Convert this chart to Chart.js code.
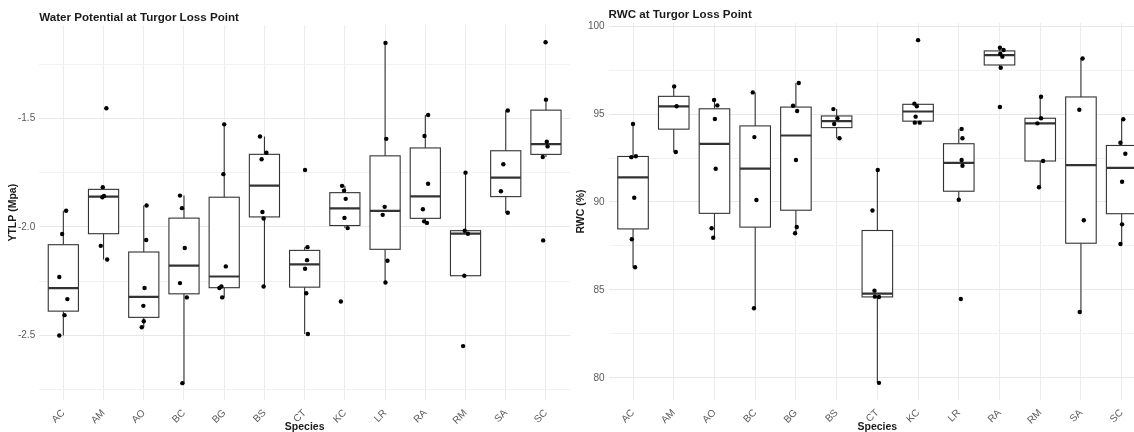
<!DOCTYPE html>
<html>
<head>
<meta charset="utf-8">
<script src="https://cdn.jsdelivr.net/npm/chart.js@4/dist/chart.umd.min.js"></script>
<style>
  html, body { margin: 0; padding: 0; background: #ffffff; overflow: hidden; width: 1134px; height: 432px; }
  canvas { position: absolute; top: 0; }
  #c1 { left: 0; }
  #c2 { left: 575px; }
</style>
</head>
<body>
<canvas id="c1" width="578" height="432"></canvas>
<canvas id="c2" width="585" height="432"></canvas>
<script>
// ---------------- data ----------------
const species = ['AC','AM','AO','BC','BG','BS','CT','KC','LR','RA','RM','SA','SC'];

// Water potential at turgor loss point (MPa), one list per species
const ytlpValues = [
  [-1.925, -2.032, -2.231, -2.333, -2.407, -2.501],
  [-1.452, -1.816, -1.857, -1.863, -2.087, -2.150],
  [-1.901, -2.060, -2.282, -2.364, -2.435, -2.463],
  [-1.855, -1.913, -2.097, -2.259, -2.325, -2.721],
  [-1.526, -1.756, -2.182, -2.275, -2.282, -2.325],
  [-1.582, -1.657, -1.687, -1.931, -1.961, -2.275],
  [-1.737, -2.093, -2.153, -2.193, -2.306, -2.494],
  [-1.810, -1.832, -1.870, -1.958, -2.005, -2.344],
  [-1.150, -1.593, -1.907, -1.944, -2.156, -2.256],
  [-1.483, -1.580, -1.800, -1.918, -1.974, -1.981],
  [-1.749, -2.017, -2.031, -2.225, -2.550],
  [-1.462, -1.710, -1.835, -1.934],
  [-1.147, -1.412, -1.606, -1.628, -1.677, -2.062]
];
// horizontal jitter of each point (category units)
const ytlpJitter = [
  [0.07, -0.03, -0.10, 0.10, 0.03, -0.10],
  [0.07, -0.02, 0.01, -0.03, -0.07, 0.09],
  [0.07, 0.06, 0.02, -0.01, 0.00, -0.05],
  [-0.10, -0.05, 0.02, -0.10, 0.07, -0.04],
  [0.00, -0.02, 0.04, -0.07, -0.12, -0.05],
  [-0.11, 0.05, -0.07, -0.05, -0.02, -0.02],
  [0.01, 0.07, 0.06, 0.01, 0.04, 0.08],
  [-0.07, -0.02, 0.02, -0.01, 0.07, -0.10],
  [0.01, 0.03, -0.01, -0.06, 0.06, 0.01],
  [0.07, -0.02, 0.07, -0.06, -0.03, 0.04],
  [0.00, -0.02, 0.06, -0.03, -0.06],
  [0.05, -0.06, -0.12, 0.05],
  [-0.01, 0.00, 0.02, 0.04, -0.08, -0.07]
];

// Relative water content at turgor loss point (%)
const rwcValues = [
  [94.43, 92.60, 92.55, 90.24, 87.88, 86.29],
  [96.57, 95.44, 92.84],
  [95.80, 95.49, 94.72, 91.89, 88.51, 87.97],
  [96.23, 93.69, 90.11, 83.96],
  [96.76, 95.47, 95.17, 92.39, 88.58, 88.22],
  [95.28, 94.76, 94.43, 93.62],
  [91.82, 89.52, 84.96, 84.62, 84.60, 79.72],
  [99.20, 95.59, 95.44, 94.85, 94.51, 94.51],
  [94.15, 93.62, 92.39, 92.06, 90.13, 84.49],
  [98.77, 98.64, 98.43, 98.26, 97.63, 95.40],
  [95.98, 94.76, 94.47, 92.33, 90.84],
  [98.16, 95.24, 88.96, 83.75],
  [94.70, 93.37, 92.74, 91.15, 88.73, 87.61]
];
const rwcJitter = [
  [0.00, 0.07, -0.04, 0.03, -0.03, 0.05],
  [0.01, 0.07, 0.05],
  [-0.01, 0.07, 0.01, 0.03, -0.07, -0.03],
  [-0.06, -0.02, 0.03, -0.03],
  [0.07, -0.07, 0.03, 0.00, 0.02, -0.02],
  [-0.08, 0.02, -0.06, 0.07],
  [0.01, -0.12, -0.07, -0.06, 0.04, 0.04],
  [0.00, -0.09, -0.03, -0.06, -0.08, 0.04],
  [0.07, 0.09, 0.07, 0.09, 0.00, 0.05],
  [0.01, 0.10, 0.02, 0.07, 0.03, 0.01],
  [0.02, 0.02, -0.07, 0.07, -0.03],
  [0.04, -0.04, 0.07, -0.03],
  [0.04, -0.03, 0.09, 0.01, 0.01, -0.03]
];

// y tick positions (major labelled, minor grid only)
const ytlpTicks = [-2.75, -2.5, -2.25, -2.0, -1.75, -1.5, -1.25];
const ytlpLabelled = [-2.5, -2.0, -1.5];
const rwcTicks = [80, 82.5, 85, 87.5, 90, 92.5, 95, 97.5, 100];
const rwcLabelled = [80, 85, 90, 95, 100];

// ---------------- helpers ----------------
const FONT = '"Liberation Sans", Arial, Helvetica, sans-serif';

function quantile7(sorted, p) {
  const h = (sorted.length - 1) * p;
  const lo = Math.floor(h);
  const hi = Math.min(lo + 1, sorted.length - 1);
  return sorted[lo] + (h - lo) * (sorted[hi] - sorted[lo]);
}
function boxStats(vals) {
  const s = [...vals].sort((a, b) => a - b);
  const q1 = quantile7(s, 0.25), med = quantile7(s, 0.5), q3 = quantile7(s, 0.75);
  const iqr = q3 - q1;
  const lo = Math.min(...s.filter(v => v >= q1 - 1.5 * iqr));
  const hi = Math.max(...s.filter(v => v <= q3 + 1.5 * iqr));
  return { q1, med, q3, lo, hi };
}

function boxPlugin(stats) {
  return {
    id: 'boxes',
    beforeDatasetsDraw(chart) {
      const { ctx, chartArea, scales: { x, y } } = chart;
      ctx.save();
      ctx.beginPath();
      ctx.rect(chartArea.left, chartArea.top, chartArea.width, chartArea.height);
      ctx.clip();
      ctx.strokeStyle = '#333333';
      stats.forEach((s, i) => {
        const cx = x.getPixelForValue(i);
        const x0 = x.getPixelForValue(i - 0.375);
        const x1 = x.getPixelForValue(i + 0.375);
        const yq1 = y.getPixelForValue(s.q1);
        const yq3 = y.getPixelForValue(s.q3);
        const ymed = y.getPixelForValue(s.med);
        const ylo = y.getPixelForValue(s.lo);
        const yhi = y.getPixelForValue(s.hi);
        ctx.lineWidth = 1.1;
        ctx.beginPath();
        ctx.moveTo(cx, yq3); ctx.lineTo(cx, yhi);
        ctx.moveTo(cx, yq1); ctx.lineTo(cx, ylo);
        ctx.stroke();
        ctx.fillStyle = '#ffffff';
        ctx.fillRect(x0, yq3, x1 - x0, yq1 - yq3);
        ctx.strokeRect(x0, yq3, x1 - x0, yq1 - yq3);
        ctx.lineWidth = 2.2;
        ctx.beginPath();
        ctx.moveTo(x0, ymed); ctx.lineTo(x1, ymed);
        ctx.stroke();
      });
      ctx.restore();
    }
  };
}

function titlePlugin(text, baseline) {
  return {
    id: 'plotTitle',
    afterDraw(chart) {
      const { ctx, chartArea } = chart;
      ctx.save();
      ctx.font = 'bold 11.6px ' + FONT;
      ctx.fillStyle = '#1a1a1a';
      ctx.textAlign = 'left';
      ctx.textBaseline = 'alphabetic';
      ctx.fillText(text, chartArea.left, baseline);
      ctx.restore();
    }
  };
}

function makeChart(id, cfg) {
  const canvas = document.getElementById(id);
  const W = canvas.width, H = canvas.height;
  const all = cfg.values.flat();
  const dmin = Math.min(...all), dmax = Math.max(...all);
  const pad = (dmax - dmin) * 0.05;
  const stats = cfg.values.map(boxStats);
  const points = [];
  cfg.values.forEach((vs, i) => vs.forEach((v, j) => points.push({ x: i + cfg.jitter[i][j], y: v })));
  const isMajor = v => cfg.labelled.some(m => Math.abs(m - v) < 1e-9);

  return new Chart(canvas, {
    type: 'scatter',
    data: {
      datasets: [{
        data: points,
        pointRadius: 2.2,
        pointHoverRadius: 2.2,
        pointBackgroundColor: '#000000',
        pointBorderWidth: 0
      }]
    },
    options: {
      responsive: false,
      animation: false,
      events: [],
      layout: { padding: { left: 0, top: cfg.area.top, right: W - cfg.area.right, bottom: 0 } },
      plugins: { legend: { display: false }, tooltip: { enabled: false } },
      scales: {
        x: {
          type: 'linear',
          min: -0.6,
          max: species.length - 0.4,
          afterFit: s => { s.height = H - cfg.area.bottom; },
          afterBuildTicks: s => { s.ticks = species.map((_, i) => ({ value: i })); },
          border: { display: false },
          grid: { color: '#ebebeb', lineWidth: 1, drawTicks: false },
          ticks: {
            autoSkip: false,
            maxRotation: 45,
            minRotation: 45,
            padding: 7,
            color: '#5a5a5a',
            font: { family: FONT, size: 10 },
            callback: v => species[Math.round(v)] ?? ''
          },
          title: {
            display: true,
            text: 'Species',
            color: '#1a1a1a',
            font: { family: FONT, size: 10.5, weight: 'bold' },
            padding: { top: 0, bottom: -1.5 }
          }
        },
        y: {
          min: dmin - pad,
          max: dmax + pad,
          afterFit: s => { s.width = cfg.area.left; },
          afterBuildTicks: s => { s.ticks = cfg.ticks.map(v => ({ value: v })); },
          border: { display: false },
          grid: {
            drawTicks: false,
            color: c => isMajor(c.tick.value) ? '#e8e8e8' : '#f2f2f2',
            lineWidth: 1
          },
          ticks: {
            padding: 4,
            color: '#5a5a5a',
            font: { family: FONT, size: 10 },
            callback: v => isMajor(v) ? cfg.fmt(v) : ''
          },
          title: {
            display: true,
            text: cfg.yTitle,
            color: '#1a1a1a',
            font: { family: FONT, size: 10.5, weight: 'bold' },
            padding: { top: cfg.yTitlePad, bottom: 0 }
          }
        }
      }
    },
    plugins: [boxPlugin(stats), titlePlugin(cfg.title, cfg.titleBaseline)]
  });
}

makeChart('c1', {
  values: ytlpValues,
  jitter: ytlpJitter,
  ticks: ytlpTicks,
  labelled: ytlpLabelled,
  fmt: v => v.toFixed(1),
  title: 'Water Potential at Turgor Loss Point',
  titleBaseline: 21,
  yTitle: 'YTLP (Mpa)',
  yTitlePad: 7,
  area: { left: 39.2, right: 570.1, top: 25.2, bottom: 400.2 }
});

makeChart('c2', {
  values: rwcValues,
  jitter: rwcJitter,
  ticks: rwcTicks,
  labelled: rwcLabelled,
  fmt: v => String(v),
  title: 'RWC at Turgor Loss Point',
  titleBaseline: 17.5,
  yTitle: 'RWC (%)',
  yTitlePad: 0,
  area: { left: 33.6, right: 571.1, top: 23, bottom: 400 }
});
</script>
</body>
</html>
